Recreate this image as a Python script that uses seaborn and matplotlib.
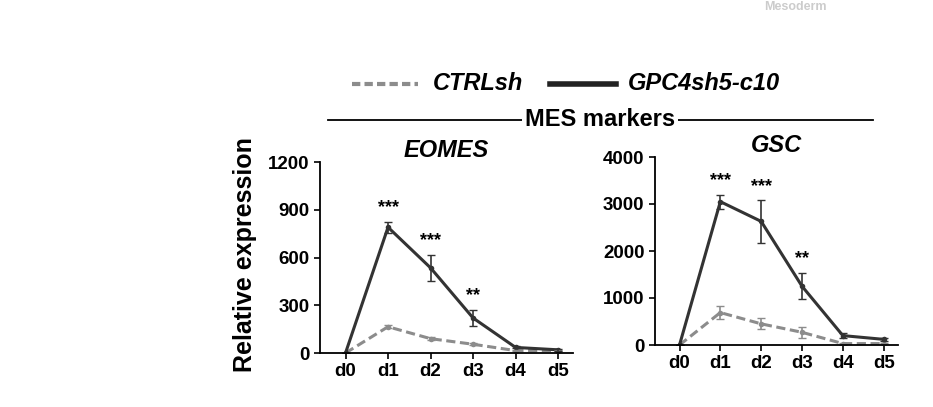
import matplotlib
matplotlib.use("Agg")
import matplotlib.pyplot as plt
import seaborn as sns
import pandas as pd

days = ["d0", "d1", "d2", "d3", "d4", "d5"]
eomes_ctrl = [0, 165, 90, 55, 15, 15]
eomes_ctrl_err = [0, 10, 8, 6, 3, 3]
eomes_kd = [0, 790, 535, 220, 35, 20]
eomes_kd_err = [0, 35, 80, 50, 6, 5]
gsc_ctrl = [0, 690, 450, 270, 30, 30]
gsc_ctrl_err = [0, 130, 120, 120, 20, 10]
gsc_kd = [0, 3050, 2630, 1250, 200, 120]
gsc_kd_err = [0, 150, 450, 280, 60, 30]
eomes_stars = {1: "***", 2: "***", 3: "**"}
gsc_stars = {1: "***", 2: "***", 3: "**"}

plt.rcParams["font.family"] = "Liberation Sans"
plt.rcParams["font.weight"] = "bold"
fig = plt.figure(figsize=(9.33, 4.07), dpi=100)
W, H = 933, 407

def ax_at(l, t, r, b):
    return fig.add_axes([l / W, 1 - b / H, (r - l) / W, (b - t) / H])

def panel(ax, title, ctrl, ce, kd, ke, stars, ymax, step, ticklabels):
    df = pd.DataFrame({"x": list(range(6)) * 2, "y": ctrl + kd,
                       "g": ["CTRLsh"] * 6 + ["GPC4sh5-c10"] * 6})
    sns.lineplot(data=df, x="x", y="y", hue="g", style="g",
                 palette={"CTRLsh": "#8c8c8c", "GPC4sh5-c10": "#333333"},
                 dashes={"CTRLsh": (3, 1.5), "GPC4sh5-c10": ""},
                 markers={"CTRLsh": "o", "GPC4sh5-c10": "o"}, markersize=4,
                 linewidth=2.2, legend=False, ax=ax, markeredgewidth=0)
    ax.errorbar(range(6), ctrl, yerr=ce, fmt="none", ecolor="#8c8c8c", capsize=3, lw=1.2)
    ax.errorbar(range(6), kd, yerr=ke, fmt="none", ecolor="#333333", capsize=3, lw=1.2)
    for i, s in stars.items():
        ax.text(i, kd[i] + ke[i] + ymax * 0.03, s, ha="center", va="bottom", fontsize=13, fontweight="bold")
    ax.set_xlim(-0.6, 5.35)
    ax.set_ylim(0, ymax)
    ax.set_yticks([step * k for k in range(len(ticklabels))])
    ax.set_yticklabels(ticklabels)
    ax.set_xticks(range(6))
    ax.set_xticklabels(days)
    ax.tick_params(labelsize=13.5, length=4, width=1.2)
    ax.set_xlabel(""); ax.set_ylabel("")
    for s in ["top", "right"]:
        ax.spines[s].set_visible(False)
    for s in ["left", "bottom"]:
        ax.spines[s].set_linewidth(1.3)
    ax.set_title(title, fontsize=17, fontstyle="italic", fontweight="bold", pad=2)

a1 = ax_at(320, 162, 573, 353)
panel(a1, "EOMES", eomes_ctrl, eomes_ctrl_err, eomes_kd, eomes_kd_err, eomes_stars,
      1200, 300, ["0", "300", "600", "900", "1200"])
a2 = ax_at(655, 157, 898, 345)
panel(a2, "GSC", gsc_ctrl, gsc_ctrl_err, gsc_kd, gsc_kd_err, gsc_stars,
      4000, 1000, ["0", "1000", "2000", "3000", "4000"])

fig.text(245 / W, 1 - 255 / H, "Relative expression", rotation=90, ha="center", va="center",
         fontsize=18, fontweight="bold")
fig.text(600 / W, 1 - 120 / H, "MES markers", ha="center", va="center", fontsize=17, fontweight="bold",
         bbox=dict(facecolor="white", edgecolor="none", pad=2))
fig.add_artist(plt.Line2D([328 / W, 873 / W], [1 - 120 / H] * 2, color="black", lw=1.3, zorder=0))
fig.add_artist(plt.Line2D([352 / W, 418 / W], [1 - 84 / H] * 2, color="#8c8c8c", lw=3, ls=(0, (2, 1))))
fig.text(433 / W, 1 - 84 / H, "CTRLsh", ha="left", va="center", fontsize=17, fontstyle="italic")
fig.add_artist(plt.Line2D([550 / W, 616 / W], [1 - 84 / H] * 2, color="#222222", lw=4))
fig.text(628 / W, 1 - 84 / H, "GPC4sh5-c10", ha="left", va="center", fontsize=17, fontstyle="italic")
fig.text(795 / W, 1 - 1 / H, "Mesoderm", ha="center", va="top", fontsize=9, color="#cccccc")
fig.savefig("out.png", dpi=100)
